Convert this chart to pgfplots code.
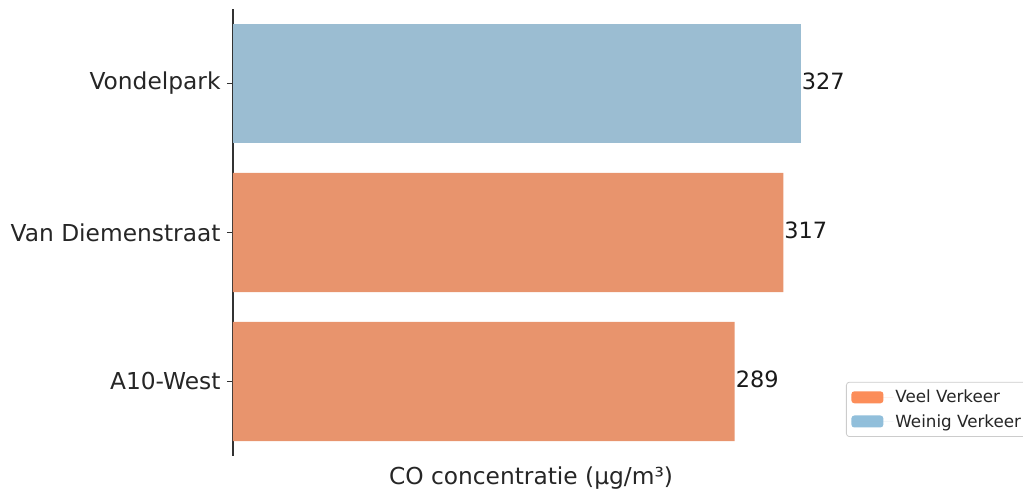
\documentclass[border=0pt]{standalone}
\usepackage{pgfplots}
\pgfplotsset{compat=1.18}
\usepackage{fontspec}
\setmainfont{DejaVu Sans}

\definecolor{veel}{RGB}{232,148,109}
\definecolor{weinig}{RGB}{155,189,210}
\definecolor{veelleg}{RGB}{252,141,89}
\definecolor{weinigleg}{RGB}{145,191,219}
\definecolor{spine}{RGB}{50,50,50}

\begin{document}
\begin{tikzpicture}
\useasboundingbox (-233bp,-34bp) rectangle (790bp,456bp);
\begin{axis}[
    at={(0,0)}, anchor=south west,
    scale only axis,
    width=596bp, height=447bp,
    xmin=0, xmax=343.35,
    ymin=-0.5, ymax=2.5,
    y dir=reverse,
    axis y line*=left,
    axis x line*=bottom,
    x axis line style={draw=none},
    y axis line style={spine, line width=1.2bp},
    xtick=\empty,
    ytick={0,1,2},
    yticklabels={Vondelpark,Van Diemenstraat,A10-West},
    tick align=outside,
    major tick length=6bp,
    ytick style={spine, line width=1.2bp},
    yticklabel style={font=\fontsize{23.4}{28}\selectfont, text=black!85, xshift=-3bp},
    xlabel={CO concentratie (µg/m³)},
    xlabel style={at={(axis description cs:0.5,0)}, anchor=base, yshift=-28bp,
        font=\fontsize{23.4}{28}\selectfont, text=black!85},
    bar width=0.8,
    /pgf/bar shift=0pt,
    nodes near coords,
    point meta=x,
    /pgf/number format/assume math mode=true,
    every node near coord/.append style={anchor=west, inner xsep=1bp, yshift=2bp,
        font=\fontsize{22.5}{27}\selectfont, text=black!90},
    legend cell align=left,
    legend style={at={(rel axis cs:1.0285,0.166)}, anchor=north west,
        draw=black!20, line width=0.8bp, rounded corners=3bp,
        font=\fontsize{16.8}{20}\selectfont, text=black!85,
        inner xsep=5bp, inner ysep=6bp, row sep=6bp},
]
\addplot[xbar, fill=veel, draw=none,
    legend image code/.code={\fill[veelleg] (0bp,-6bp) rectangle (32bp,6bp);
        \path (0bp,0bp) -- (42bp,0bp);}]
    coordinates {(317,1) (289,2)};
\addlegendentry{Veel Verkeer}
\addplot[xbar, fill=weinig, draw=none,
    legend image code/.code={\fill[weinigleg] (0bp,-6bp) rectangle (32bp,6bp);
        \path (0bp,0bp) -- (42bp,0bp);}]
    coordinates {(327,0)};
\addlegendentry{Weinig Verkeer}
\end{axis}
\end{tikzpicture}
\end{document}
